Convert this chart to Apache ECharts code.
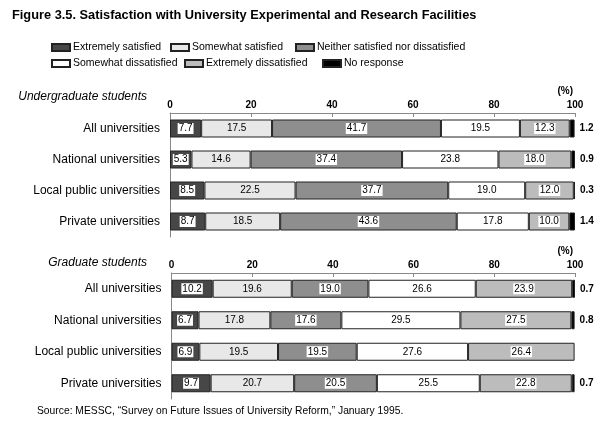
<!DOCTYPE html>
<html>
<head>
<meta charset="utf-8">
<script src="https://cdn.jsdelivr.net/npm/echarts@6/dist/echarts.min.js"></script>
<style>html,body{margin:0;padding:0;background:#fff;}#c{width:609px;height:439px;}</style>
</head>
<body>
<div id="c"></div>
<script>
var categories = ['All universities','National universities','Local public universities','Private universities'];
var seriesNames = ['Extremely satisfied','Somewhat satisfied','Neither satisfied nor dissatisfied','Somewhat dissatisfied','Extremely dissatisfied','No response'];
var xTicks = [0,20,40,60,80,100];

var ugExtSat   = [7.7, 5.3, 8.5, 8.7];
var ugSomeSat  = [17.5, 14.6, 22.5, 18.5];
var ugNeither  = [41.7, 37.4, 37.7, 43.6];
var ugSomeDis  = [19.5, 23.8, 19.0, 17.8];
var ugExtDis   = [12.3, 18.0, 12.0, 10.0];
var ugNoResp   = [1.2, 0.9, 0.3, 1.4];

var grExtSat   = [10.2, 6.7, 6.9, 9.7];
var grSomeSat  = [19.6, 17.8, 19.5, 20.7];
var grNeither  = [19.0, 17.6, 19.5, 20.5];
var grSomeDis  = [26.6, 29.5, 27.6, 25.5];
var grExtDis   = [23.9, 27.5, 26.4, 22.8];
var grNoResp   = [0.7, 0.8, null, 0.7];

var colors = ['#474747','#e8e8e8','#8e8e8e','#ffffff','#bcbcbc','#000000'];
var boxed = [true,false,true,true,true,false];
var FONT = '"Liberation Sans", Arial, Helvetica, sans-serif';

var ugData = [ugExtSat, ugSomeSat, ugNeither, ugSomeDis, ugExtDis, ugNoResp];
var grData = [grExtSat, grSomeSat, grNeither, grSomeDis, grExtDis, grNoResp];

function makeSeries(dataSets, axisIdx) {
  return dataSets.map(function (d, i) {
    var isLast = i === 5;
    return {
      name: seriesNames[i],
      type: 'bar',
      stack: 'p' + axisIdx,
      xAxisIndex: axisIdx,
      yAxisIndex: axisIdx,
      barWidth: 18,
      data: d,
      itemStyle: { color: colors[i], borderColor: '#222', borderWidth: 1 },
      label: {
        show: true,
        position: isLast ? 'right' : 'inside',
        distance: 5,
        fontFamily: FONT,
        fontSize: 10,
        fontWeight: isLast ? 'bold' : 'normal',
        color: '#000',
        backgroundColor: boxed[i] ? '#ffffff' : 'transparent',
        padding: boxed[i] ? [1, 1, 0, 1] : 0,
        formatter: function (p) { return (p.value == null) ? '' : Number(p.value).toFixed(1); }
      },
      emphasis: { disabled: true },
      animation: false
    };
  });
}

function xAxisCfg(gridIdx) {
  return {
    gridIndex: gridIdx, type: 'value', position: 'top', min: 0, max: 100, interval: 20,
    axisLine: { show: true, lineStyle: { color: '#888', width: 1 } },
    axisTick: { show: true, inside: true, length: 4, lineStyle: { color: '#888' } },
    axisLabel: { margin: 3, fontFamily: FONT, fontSize: 10, fontWeight: 'bold', color: '#000',
      formatter: function (v) { return xTicks.indexOf(v) >= 0 ? String(v) : ''; } },
    splitLine: { show: false },
    name: '(%)', nameLocation: 'end', nameGap: -2,
    nameTextStyle: { fontFamily: FONT, fontSize: 10, fontWeight: 'bold', color: '#000', align: 'right', verticalAlign: 'bottom', padding: [0, 0, 17, 0] }
  };
}
function yAxisCfg(gridIdx) {
  return {
    gridIndex: gridIdx, type: 'category', inverse: true, data: categories,
    axisLine: { show: true, lineStyle: { color: '#888', width: 1 } },
    axisTick: { show: false },
    axisLabel: { margin: 10, fontFamily: FONT, fontSize: 12, color: '#000' }
  };
}

var legendPos = [[51,42],[170,42],[295,42],[51,58],[184,58],[322,58]];
var legends = seriesNames.map(function (n, i) {
  return {
    data: [n], left: legendPos[i][0], top: legendPos[i][1], padding: 0,
    itemWidth: 18, itemHeight: 7, itemGap: 0, selectedMode: false,
    icon: 'rect',
    textStyle: { fontFamily: FONT, fontSize: 10.5, color: '#000', padding: [0, 0, 0, -2] }
  };
});

var chart = echarts.init(document.getElementById('c'), null, { renderer: 'canvas' });
chart.setOption({
  backgroundColor: '#fff',
  animation: false,
  title: [
    { text: 'Figure 3.5. Satisfaction with University Experimental and Research Facilities', left: 12, top: 9, padding: 0,
      textStyle: { fontFamily: FONT, fontSize: 12.8, fontWeight: 'bold', color: '#000' } },
    { text: 'Source: MESSC, \u201cSurvey on Future Issues of University Reform,\u201d January 1995.', left: 37, top: 406, padding: 0,
      textStyle: { fontFamily: FONT, fontSize: 10.3, fontWeight: 'normal', color: '#000' } }
  ],
  legend: legends,
  grid: [
    { left: 170, right: 34, top: 113, height: 124 },
    { left: 171.5, right: 34, top: 273, height: 126 }
  ],
  xAxis: [xAxisCfg(0), xAxisCfg(1)],
  yAxis: [yAxisCfg(0), yAxisCfg(1)],
  graphic: [
    { type: 'text', x: 147, y: 97, style: { text: 'Undergraduate students', align: 'right', verticalAlign: 'middle', fontFamily: FONT, fontSize: 12, fontStyle: 'italic', fill: '#000' } },
    { type: 'text', x: 147, y: 263, style: { text: 'Graduate students', align: 'right', verticalAlign: 'middle', fontFamily: FONT, fontSize: 12, fontStyle: 'italic', fill: '#000' } }
  ],
  series: makeSeries(ugData, 0).concat(makeSeries(grData, 1))
});
</script>
</body>
</html>
